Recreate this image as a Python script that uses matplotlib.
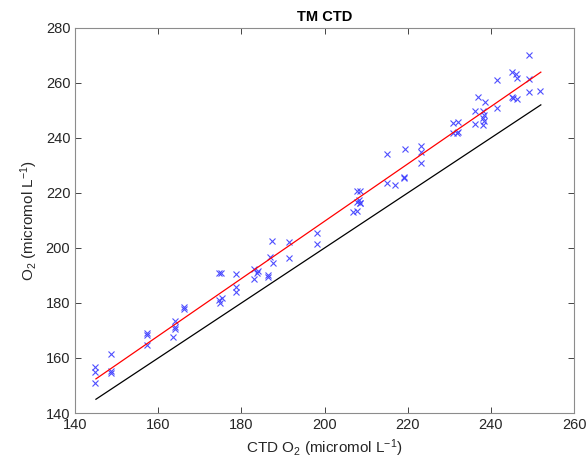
import numpy as np
import matplotlib
matplotlib.use("Agg")
from matplotlib import pyplot as plt

# ==========================================================
# DADOS
# ==========================================================

ctd_o2 = [144.8, 144.8, 144.8, 148.7, 148.7, 148.7, 157.2, 157.2, 157.2,
          163.5, 164.0, 164.0, 164.0, 166.3, 166.3, 174.7, 174.8, 175.3,
          174.7, 175.0, 178.6, 178.6, 178.6, 182.9, 183.8, 184.0, 182.9,
          186.5, 186.5, 186.9, 187.5, 187.3, 191.5, 191.5, 198.1, 198.1,
          206.8, 207.7, 207.7, 208.3, 208.5, 208.6, 207.7, 208.5, 215.1,
          215.1, 216.9, 219.1, 219.2, 219.3, 223.1, 223.1, 223.1, 230.9,
          232.1, 230.9, 232.1, 231.8, 236.2, 236.2, 236.9, 238.6, 238.2,
          238.3, 238.2, 238.3, 238.1, 241.4, 241.4, 245.0, 246.0, 246.2,
          245.0, 245.4, 246.3, 249.2, 249.2, 249.2, 251.9]

tm_o2 = [156.6, 155.0, 151.0, 161.5, 155.4, 154.7, 169.0, 168.4, 164.7,
         167.5, 173.6, 171.4, 170.6, 178.4, 177.7, 181.1, 179.9, 181.7,
         190.8, 190.8, 190.4, 185.9, 184.1, 192.4, 191.0, 191.5, 188.6,
         190.2, 189.4, 196.6, 194.6, 202.5, 202.1, 196.3, 205.6, 201.5,
         213.2, 213.6, 216.8, 217.5, 216.5, 216.2, 220.8, 220.8, 234.2,
         223.5, 222.9, 225.9, 225.3, 235.9, 237.1, 234.8, 231.0, 245.3,
         245.9, 241.9, 242.3, 241.6, 249.6, 245.1, 254.7, 253.2, 249.6,
         248.4, 247.2, 246.0, 244.7, 261.1, 250.8, 264.1, 263.3, 261.7,
         255.0, 254.4, 254.1, 270.2, 261.5, 256.6, 257.2]

# linha 1:1 e ajuste linear (extremos)
one_to_one_x = [145, 252]
one_to_one_y = [145, 252]
fit_x = [145, 252]
fit_y = [152.4, 263.9]

x_ticks = [140, 160, 180, 200, 220, 240, 260]
y_ticks = [140, 160, 180, 200, 220, 240, 260, 280]

# ==========================================================
# FIGURA
# ==========================================================

plt.rcParams['font.family'] = ['Liberation Sans', 'DejaVu Sans']
plt.rcParams['mathtext.default'] = 'regular'

fig = plt.figure(figsize=(5.87, 4.72), dpi=100)
ax = fig.add_axes([0.128, 0.125, 0.850, 0.816])

ax.plot(ctd_o2, tm_o2, 'x', color='#3c3cff', markersize=4.5,
        markeredgewidth=0.8, alpha=0.9)
ax.plot(fit_x, fit_y, color='red', linewidth=0.9)
ax.plot(one_to_one_x, one_to_one_y, color='black', linewidth=0.9)

ax.set_xlim(140, 260)
ax.set_ylim(140, 280)
ax.set_xticks(x_ticks)
ax.set_yticks(y_ticks)

ax.tick_params(direction='in', length=4, width=0.6, top=True, right=True,
               labelsize=10.5, colors='#262626', labelcolor='#262626')
for s in ax.spines.values():
    s.set_color('#8c8c8c')
    s.set_linewidth(0.8)

ax.set_title('TM CTD', fontsize=10.5, fontweight='bold', pad=5)
ax.set_xlabel('CTD O$_2$ (micromol L$^{-1}$)', fontsize=11, color='#262626')
ax.set_ylabel('O$_2$ (micromol L$^{-1}$)', fontsize=11, color='#262626')

fig.savefig("out.png", dpi=100)
